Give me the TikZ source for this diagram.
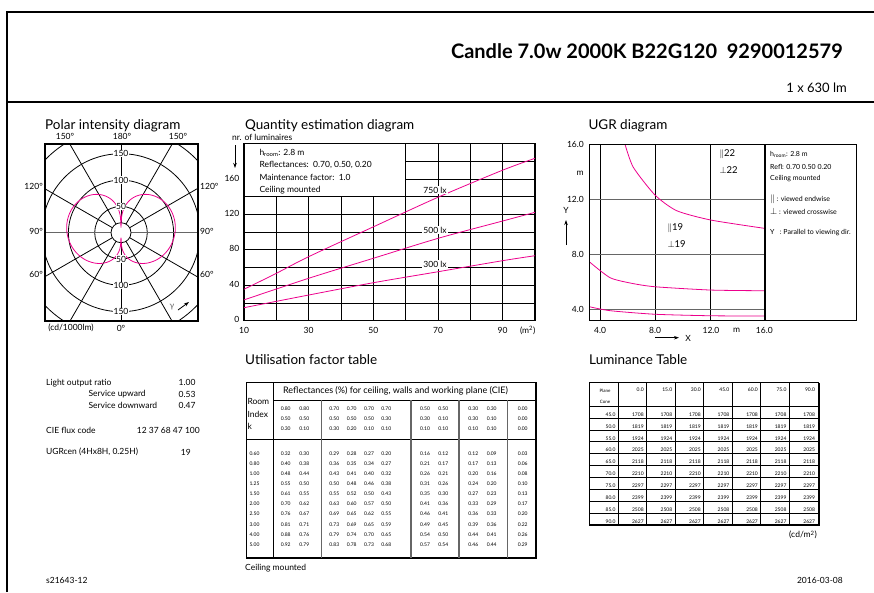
\documentclass[tikz,border=0pt]{standalone}
\usepackage{fontspec}
\setmainfont{Lato}
\usepackage{tikz}
\usetikzlibrary{positioning, arrows.meta, calc}

\begin{document}
\begin{tikzpicture}[x=1pt, y=-1pt,
    frameline/.style={line width=1.2pt},
    boxline/.style={line width=1.2pt},
    heading/.style={font=\fontsize{13.5}{15}\selectfont, anchor=base west, inner sep=0pt},
    axislabel/.style={font=\fontsize{8.5}{10}\selectfont, inner sep=1pt},
    smalltext/.style={font=\fontsize{8.5}{10}\selectfont, anchor=west, inner sep=0pt},
    tinytext/.style={font=\fontsize{7}{8}\selectfont, anchor=west, inner sep=0pt},
    cellnum/.style={font=\fontsize{5}{6}\selectfont, inner sep=0pt},
    gridline/.style={line width=0.8pt},
    grayline/.style={line width=1.2pt, black!60},
    curve/.style={magenta, line width=0.8pt},
    arrow/.style={-{Stealth[length=5pt, width=3.5pt]}, line width=0.8pt}
]
\useasboundingbox (0,0) rectangle (874,592);

% Frame
\draw[frameline] (7,592) -- (7,12) -- (874,12);
\draw[line width=1.6pt] (7,102) -- (874,102);

% Header
\node[font=\fontsize{20}{22}\selectfont\bfseries, anchor=base east, inner sep=0pt] (title) at (843,58.3) {Candle 7.0w 2000K B22G120\ \ 9290012579};
\node[font=\fontsize{13}{15}\selectfont, anchor=base east, inner sep=0pt] (flux) at (847,92.3) {1 x 630 lm};

% Polar intensity diagram
\node[heading] (polarhead) at (45,129) {Polar intensity diagram};
\coordinate (pc) at (121,232.7);
\begin{scope}
  \clip (45,144) rectangle (198,321);
  \foreach \r in {26.3,52.6,79,105.2}
    \draw[gridline] (pc) circle (\r);
  \foreach \a in {30,60,120,150,210,240,300,330}
    \draw[gridline] ($(pc)+(\a:10)$) -- ($(pc)+(\a:200)$);
  \draw[gridline] ($(pc)+(0,10)$) -- ++(0,100) ($(pc)+(0,-10)$) -- ++(0,-100);
  \draw[grayline] ($(pc)+(10,0)$) -- ++(100,0) ($(pc)+(-10,0)$) -- ++(-100,0);
\end{scope}
\draw[gridline] (pc) circle (10);
\draw[boxline] (45,144) rectangle (198,321);
\draw[curve] plot[domain=-180:180, samples=181, smooth]
  ({121+(5+49*sqrt(abs(sin(\x)))*(1-0.15*cos(\x)))*sin(\x)},
   {232.7+(5+49*sqrt(abs(sin(\x)))*(1-0.15*cos(\x)))*cos(\x)});
\foreach \v/\r in {50/26.3,100/52.6,150/79} {
  \node[axislabel, fill=white, inner sep=0.5pt] (pu\v) at ($(pc)+(0,-\r)$) {\v};
  \node[axislabel, fill=white, inner sep=0.5pt] (pd\v) at ($(pc)+(0,\r)$) {\v};
}
\node[axislabel] (a150l) at (65,136.7) {150°};
\node[axislabel] (a180) at (122,136.7) {180°};
\node[axislabel] (a150r) at (178,136.7) {150°};
\node[axislabel, anchor=east] (a120l) at (44,186) {120°};
\node[axislabel, anchor=east] (a90l) at (44,231) {90°};
\node[axislabel, anchor=east] (a60l) at (44,274) {60°};
\node[axislabel, anchor=west] (a120r) at (199,186) {120°};
\node[axislabel, anchor=west] (a90r) at (199,231) {90°};
\node[axislabel, anchor=west] (a60r) at (199,274) {60°};
\node[axislabel] (cdunit) at (71,328) {(cd/1000lm)};
\node[axislabel] (a0) at (121,328) {0°};
\node[axislabel, text=black!60] (gamma) at (172,307) {γ};
\coordinate (g1) at (178,310);
\coordinate (g2) at (189,302);
\draw[arrow] (g1) -- (g2);

% Quantity estimation diagram
\node[heading] (qhead) at (245,129) {Quantity estimation diagram};
\node[smalltext] (nrlum) at (232,137) {nr. of luminaires};
\coordinate (qa1) at (235,145);
\coordinate (qa2) at (235,168);
\draw[arrow] (qa1) -- (qa2);
\begin{scope}[shift={(211.667,320.7)}, x=3.2333pt, y=0.8855pt]
  \foreach \v in {20,30,40,50} \draw[gridline] (\v,0) -- (\v,140);
  \foreach \v in {60,70,80,90} \draw[gridline] (\v,0) -- (\v,200);
  \foreach \n in {20,40,...,140} \draw[gridline] (10,\n) -- (100,\n);
  \foreach \n in {160,180} \draw[gridline] (60,\n) -- (100,\n);
  \draw[boxline] (10,0) rectangle (100,200);
  % illuminance lines
  \draw[curve] plot[smooth] coordinates {(10,35.5) (20,53.5) (30,72.3) (50,106) (70,139.4) (90,170) (100,183.4)};
  \draw[curve] plot[smooth] coordinates {(10,23.5) (30,47.9) (50,70.5) (70,93) (90,112.6) (100,122.4)};
  \draw[curve] plot[smooth] coordinates {(10,14.7) (30,29) (50,42.9) (70,55.3) (90,67.8) (100,73.4)};
  \node[smalltext, anchor=base, fill=white, inner sep=1pt] (l750) at (69.1,144) {750 lx};
  \node[smalltext, anchor=base, fill=white, inner sep=1pt] (l500) at (69.1,99) {500 lx};
  \node[smalltext, anchor=base, fill=white, inner sep=1pt] (l300) at (69.1,60) {300 lx};
\end{scope}
\node[smalltext] (qroom) at (259.3,153.3) {h\textsubscript{room}: 2.8 m};
\node[smalltext] (qrefl) at (259.3,165) {Reflectances:\ \ 0.70, 0.50, 0.20};
\node[smalltext] (qmaint) at (259.3,177.7) {Maintenance factor:\ \ 1.0};
\node[smalltext] (qceil) at (259.3,190) {Ceiling mounted};
\foreach \n in {0,40,...,160}
  \node[axislabel, anchor=east] (qy\n) at (240.5,{319.7-0.8855*\n}) {\n};
\foreach \v in {10,30,...,90}
  \node[axislabel] (qx\v) at ({211.667+3.2333*\v},330.7) {\v};
\node[axislabel] (qunit) at (527.7,330.7) {(m\textsuperscript{2})};

% UGR diagram
\node[heading] (ugrhead) at (588.3,129) {UGR diagram};
\begin{scope}[shift={(545,364.3)}, x=13.75pt, y=13.75pt]
  \foreach \v in {4,8,12} \draw[gridline] (\v,3.17) -- (\v,16);
  \foreach \v in {4,8,12} \draw[grayline] (3.22,\v) -- (16,\v);
  \draw[curve] plot[smooth, tension=0.4] coordinates {(5.82,16) (6.42,14.33) (8,12.31) (9.58,11.17) (12.07,10.49) (15.95,9.89)};
  \draw[curve] plot[smooth, tension=0.4] coordinates {(3.22,7.46) (4.73,6.3) (6.31,5.89) (8,5.64) (12.07,5.4) (15.95,5.35)};
  \draw[curve] plot[smooth, tension=0.4] coordinates {(3.22,4.19) (4.73,3.9) (8,3.64) (12.07,3.53) (15.95,3.51)};
  \draw[boxline] (3.22,3.17) rectangle (22.67,16);
  \draw[boxline] (16,3.17) -- (16,16);
\end{scope}
\foreach \v/\y in {16/144.3,12/199.3,8/254.3,4/309.3}
  \node[axislabel, anchor=east] (uy\v) at (585,\y) {\v.0};
\node[axislabel] (uym) at (580,173) {m};
\node[axislabel] (uyY) at (566,210) {Y};
\coordinate (uya1) at (566,245);
\coordinate (uya2) at (566,220);
\draw[arrow] (uya1) -- (uya2);
\foreach \v/\x in {4/600,8/655,12/711,16/764.3}
  \node[axislabel] (ux\v) at (\x,330) {\v.0};
\node[axislabel] (uxm) at (736.7,330) {m};
\coordinate (uxa1) at (655,337.7);
\coordinate (uxa2) at (679,337.7);
\draw[arrow] (uxa1) -- (uxa2);
\node[axislabel] (uxX) at (688,338.5) {X};
\node[smalltext, font=\fontsize{9.5}{10}\selectfont] (par22) at (719.3,154.3) {$\parallel$22};
\node[smalltext, font=\fontsize{9.5}{10}\selectfont] (perp22) at (719.3,170) {$\perp$22};
\node[smalltext, font=\fontsize{9.5}{10}\selectfont] (par19) at (667.3,228.3) {$\parallel$19};
\node[smalltext, font=\fontsize{9.5}{10}\selectfont] (perp19) at (667.3,244.3) {$\perp$19};
\node[tinytext] (uroom) at (770,154.3) {h\textsubscript{room}: 2.8 m};
\node[tinytext] (urefl) at (770,166.7) {Refl: 0.70 0.50 0.20};
\node[tinytext] (uceil) at (770,179) {Ceiling mounted};
\node[tinytext] (uend) at (770,199.3) {{\fontsize{9}{9}\selectfont$\parallel$} : viewed endwise};
\node[tinytext] (ucross) at (770,211) {{\fontsize{9}{9}\selectfont$\perp$} : viewed crosswise};
\node[tinytext] (upar) at (770,232.3) {Y\ \ \ : Parallel to viewing dir.};

% Light output data
\node[smalltext] (lor) at (46,382.7) {Light output ratio};
\node[smalltext, anchor=east] (lorv) at (195.7,382.7) {1.00};
\node[smalltext] (lup) at (88.3,394) {Service upward};
\node[smalltext, anchor=east] (lupv) at (195.7,394) {0.53};
\node[smalltext] (ldown) at (88.3,405) {Service downward};
\node[smalltext, anchor=east] (ldownv) at (195.7,405) {0.47};
\node[smalltext] (cie) at (46,430) {CIE flux code};
\node[smalltext, anchor=east] (ciev) at (200,430) {12 37 68 47 100};
\node[smalltext] (ugrcen) at (46,452.3) {UGRcen (4Hx8H, 0.25H)};
\node[smalltext, anchor=east] (ugrcenv) at (191,452.3) {19};

% Utilisation factor table
\node[heading] (ufhead) at (245,364) {Utilisation factor table};
\draw[line width=0.8pt] (246,382.3) rectangle (535.7,557.7);
\draw[line width=1.6pt] (246,557.7) -- (535.7,557.7) -- (535.7,382.3);
\draw[gridline] (273.3,400) -- (535.7,400);
\draw[gridline] (246,439.3) -- (535.7,439.3);
\draw[gridline] (273.3,382.3) -- (273.3,557.7);
\foreach \x in {321.7,411,459,507.3} \draw[grayline] (\x,400) -- (\x,557.7);
\node[smalltext, anchor=center, font=\fontsize{9}{11}\selectfont] (ufrefl) at (395.5,390.5) {Reflectances (\%) for ceiling, walls and working plane (CIE)};
\node[smalltext] (ufroom) at (247.3,401) {Room};
\node[smalltext] (ufindex) at (247.3,414.3) {Index};
\node[smalltext] (ufkk) at (247.3,426.7) {k};
\def\ufcols{{285.7,304.3,334.3,351.7,369,386.3,425,443.3,473.3,491.7,522.7}}
\foreach \row [count=\i] in {{0.80,0.80,0.70,0.70,0.70,0.70,0.50,0.50,0.30,0.30,0.00},
    {0.50,0.50,0.50,0.50,0.50,0.30,0.30,0.10,0.30,0.10,0.00},
    {0.30,0.10,0.30,0.20,0.10,0.10,0.10,0.10,0.10,0.10,0.00}} {
  \foreach \v [count=\j] in \row {
    \pgfmathsetmacro\cx{\ufcols[\j-1]}
    \node[cellnum] (rf\i-\j) at (\cx,{398.3+10*\i}) {\v};
  }
}
\foreach \k/\row [count=\i from 0] in {
    0.60/{0.32,0.30,0.29,0.28,0.27,0.20,0.16,0.12,0.12,0.09,0.03},
    0.80/{0.40,0.38,0.36,0.35,0.34,0.27,0.21,0.17,0.17,0.13,0.06},
    1.00/{0.48,0.44,0.43,0.41,0.40,0.32,0.26,0.21,0.20,0.16,0.08},
    1.25/{0.55,0.50,0.50,0.48,0.46,0.38,0.31,0.26,0.24,0.20,0.10},
    1.50/{0.61,0.55,0.55,0.52,0.50,0.43,0.35,0.30,0.27,0.23,0.13},
    2.00/{0.70,0.62,0.63,0.60,0.57,0.50,0.41,0.36,0.33,0.29,0.17},
    2.50/{0.76,0.67,0.69,0.65,0.62,0.55,0.46,0.41,0.36,0.33,0.20},
    3.00/{0.81,0.71,0.73,0.69,0.65,0.59,0.49,0.45,0.39,0.36,0.22},
    4.00/{0.88,0.76,0.79,0.74,0.70,0.65,0.54,0.50,0.44,0.41,0.26},
    5.00/{0.92,0.79,0.83,0.78,0.73,0.68,0.57,0.54,0.46,0.44,0.29}} {
  \node[cellnum] (ufk\i) at (254.5,{454+10.03*\i}) {\k};
  \foreach \v [count=\j] in \row {
    \pgfmathsetmacro\cx{\ufcols[\j-1]}
    \node[cellnum] (uf\i-\j) at (\cx,{454+10.03*\i}) {\v};
  }
}
\node[smalltext] (ufceil) at (245,568) {Ceiling mounted};

% Luminance table
\node[heading] (lumhead) at (589,364) {Luminance Table};
\draw[line width=0.8pt] (589,382.7) rectangle (818.7,525);
\draw[line width=1.6pt] (589,525) -- (818.7,525) -- (818.7,382.7);
\foreach \x in {618.3,646.7,675.3,703.7,732.3,760.7,789.3}
  \draw[line width=1.4pt] (\x,382.7) -- (\x,525);
\draw[gridline] (589,406) -- (818.7,406);
\foreach \i in {1,...,9}
  \draw[line width=0.6pt] (589,{406+11.9*\i}) -- (818.7,{406+11.9*\i});
\node[cellnum, font=\fontsize{4.5}{5}\selectfont] (plane) at (605,390.7) {Plane};
\node[cellnum, font=\fontsize{4.5}{5}\selectfont] (cone) at (605,402.3) {Cone};
\foreach \c [count=\j] in {0.0,15.0,30.0,45.0,60.0,75.0,90.0}
  \node[cellnum, anchor=east] (lc\j) at ({615.3+28.55*\j},390) {\c};
\foreach \g/\L [count=\i] in {45.0/1708,50.0/1819,55.0/1924,60.0/2025,65.0/2118,
    70.0/2210,75.0/2297,80.0/2399,85.0/2508,90.0/2627} {
  \node[cellnum, anchor=east] (lg\i) at (615.7,{402.5+11.9*\i}) {\g};
  \foreach \j in {1,...,7}
    \node[cellnum, anchor=east] (lv\i-\j) at ({615.3+28.55*\j},{402.5+11.9*\i}) {\L};
}
\node[axislabel, anchor=east] (lumunit) at (818,535) {(cd/m\textsuperscript{2})};

% Footer
\node[smalltext] (code) at (46,580) {s21643-12};
\node[smalltext, anchor=east] (date) at (843,580) {2016-03-08};

\end{tikzpicture}
\end{document}
